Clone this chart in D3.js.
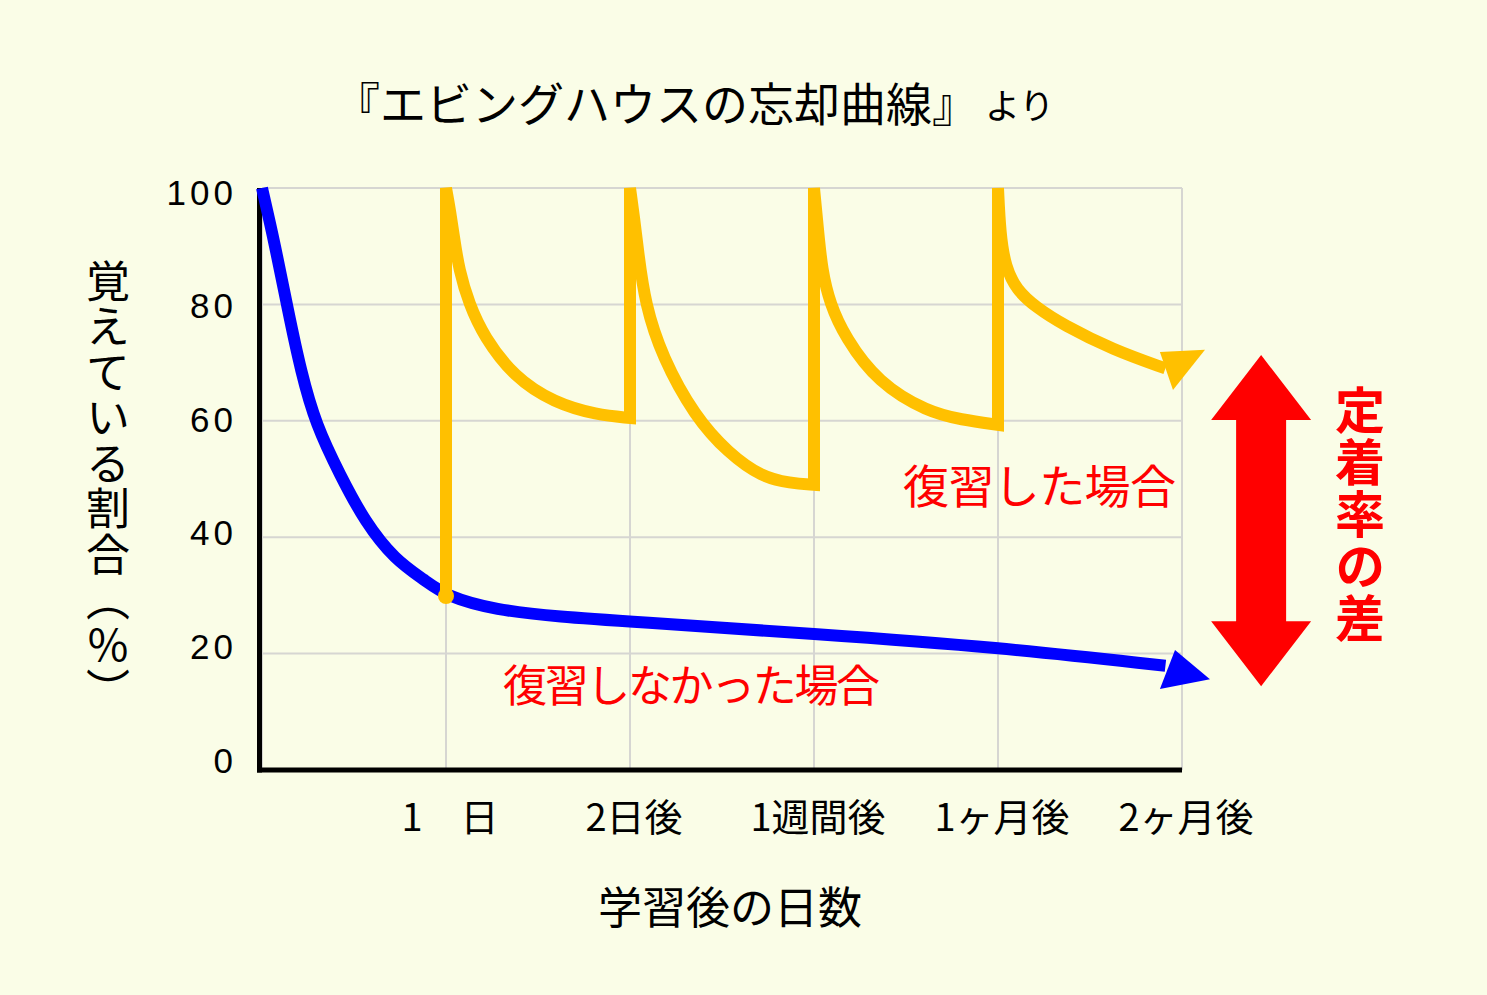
<!DOCTYPE html>
<html><head><meta charset="utf-8">
<script src="https://cdn.jsdelivr.net/npm/d3@7"></script>
<style>html,body{margin:0;padding:0;background:#fafde7;} svg{display:block}</style>
</head><body>
<svg id="chart" width="1487" height="995"></svg>
<script>
// ---------- data ----------
const titleMain = "『エビングハウスの忘却曲線』";
const titleSuffix = "より";
const yTicks = [0, 20, 40, 60, 80, 100];
const xTickValues = [1, 2, 3, 4, 5];
const xTickLabels = ["1　日", "2日後", "1週間後", "1ヶ月後", "2ヶ月後"];
const yAxisTitle = "覚えている割合（％）";
const xAxisTitle = "学習後の日数";
const noReviewLabel = "復習しなかった場合";
const reviewLabel = "復習した場合";
const gapLabel = "定着率の差";

// 復習しなかった場合 (blue)
const noReview = [[0,100],[0.071,90.2],[0.141,79.0],[0.212,68.4],[0.293,59.3],[0.424,50.7],
  [0.56,42.6],[0.723,36.1],[0.886,32.6],[1.0,29.9],[1.266,27.5],[1.62,26.3],[2.0,25.5],
  [3.0,23.4],[4.0,21.1],[4.91,17.9]];
const noReviewArrow = [[4.962,20.6],[5.152,15.6],[4.88,13.9]];

// 復習した場合 (yellow): review points and decays
const reviewDays = [1, 2, 3, 4];
const reviewStart = 29.9;          // value on the blue curve at day 1
const decay1 = [[1,100],[1.022,96.2],[1.043,91.6],[1.071,85.9],[1.125,80.1],[1.207,74.4],[1.37,67.5],[1.587,63.1],[1.82,61],[2,60.5]];
const decay2 = [[2,100],[2.022,95],[2.045,88.8],[2.082,80.1],[2.174,71],[2.353,60.7],[2.533,54.5],[2.717,50.3],[2.87,49.3],[3,49]];
const decay3 = [[3,100],[3.022,92.8],[3.043,85.9],[3.087,80.1],[3.168,74.4],[3.348,66.5],[3.62,61.5],[3.8,60.2],[4,59.3]];
const decay4 = [[4,100],[4.012,92],[4.04,86.5],[4.1,82.5],[4.207,79.5],[4.353,76.5],[4.625,72.2],[4.91,69]];
const reviewArrow = [[4.88,71.8],[5.125,72.2],[4.951,65.3]];

// 定着率の差 arrow
const gapRange = [71.3, 14.4];
const gapX = 5.43;

// ---------- drawing ----------
const svg = d3.select("#chart");
const W = 1487, H = 995;
const JP = "'Noto Sans CJK JP','Noto Sans JP',sans-serif";

svg.append("rect").attr("width", W).attr("height", H).attr("fill", "#fafde7");

const x = d3.scaleLinear().domain([0, 5]).range([262, 1182]);
const y = d3.scaleLinear().domain([0, 100]).range([770, 188]);
const yLab = d3.scaleLinear().domain([0, 100]).range([760, 192]);

// gridlines
const g = svg.append("g");
g.selectAll("line.h").data(yTicks.filter(d => d > 0)).join("line")
  .attr("x1", x(0)).attr("x2", x(5)).attr("y1", d => y(d)).attr("y2", d => y(d))
  .attr("stroke", "#d6d6d2").attr("stroke-width", 2);
g.selectAll("line.v").data([0].concat(xTickValues)).join("line")
  .attr("x1", d => x(d)).attr("x2", d => x(d))
  .attr("y1", y(100)).attr("y2", y(0))
  .attr("stroke", "#d6d6d2").attr("stroke-width", 2);

// axes
svg.append("line").attr("x1", x(0) - 2.5).attr("x2", x(0) - 2.5).attr("y1", y(100)).attr("y2", y(0) + 2.5)
  .attr("stroke", "#000").attr("stroke-width", 5);
svg.append("line").attr("x1", x(0) - 5).attr("x2", x(5)).attr("y1", y(0)).attr("y2", y(0))
  .attr("stroke", "#000").attr("stroke-width", 5);

// y tick labels
svg.selectAll("text.yt").data(yTicks).join("text")
  .attr("x", 237).attr("y", d => yLab(d))
  .attr("text-anchor", "end").attr("dominant-baseline", "central")
  .attr("font-family", "'Liberation Sans',Arial,sans-serif").attr("font-size", 35)
  .attr("letter-spacing", "4px").attr("fill", "#000")
  .text(d => d);

// x tick labels
svg.selectAll("text.xt").data(xTickValues).join("text")
  .attr("x", d => x(d) + 4).attr("y", 814)
  .attr("text-anchor", "middle").attr("dominant-baseline", "central")
  .attr("font-family", JP).attr("font-size", 38).attr("fill", "#000")
  .text((d, i) => xTickLabels[i]);

// axis titles
svg.append("text").attr("x", 730).attr("y", 905)
  .attr("text-anchor", "middle").attr("dominant-baseline", "central")
  .attr("font-family", JP).attr("font-size", 44).attr("fill", "#000")
  .text(xAxisTitle);
svg.append("text").attr("x", 108).attr("y", 259)
  .attr("text-anchor", "start")
  .style("writing-mode", "vertical-rl")
  .attr("letter-spacing", "1.5px")
  .attr("font-family", JP).attr("font-size", 44).attr("fill", "#000")
  .text(yAxisTitle);

// title
svg.append("text").attr("x", 334).attr("y", 101)
  .attr("dominant-baseline", "central").attr("font-family", JP).attr("fill", "#000")
  .attr("font-size", 46).text(titleMain);
svg.append("text").attr("x", 985).attr("y", 103)
  .attr("dominant-baseline", "central").attr("font-family", JP).attr("fill", "#000")
  .attr("font-size", 35).text(titleSuffix);

// blue curve
const lineCurve = d3.line().x(d => x(d[0])).y(d => y(d[1])).curve(d3.curveBasis);
const lineLin = d3.line().x(d => x(d[0])).y(d => y(d[1]));
svg.append("path").attr("d", lineCurve(noReview))
  .attr("fill", "none").attr("stroke", "#0000ff").attr("stroke-width", 12);
svg.append("path").attr("d", lineLin(noReviewArrow) + "Z").attr("fill", "#0000ff");

// yellow curve as one path
const decays = [decay1, decay2, decay3, decay4];
let pathD = "";
let bottom = reviewStart;
reviewDays.forEach((day, i) => {
  const v = lineLin([[day, bottom], [day, 100]]);
  pathD += (i === 0 ? v : v.replace(/^M/, "L"));
  pathD += lineCurve(decays[i]).replace(/^M/, "L");
  bottom = decays[i][decays[i].length - 1][1];
});
svg.append("path").attr("d", pathD)
  .attr("fill", "none").attr("stroke", "#ffc000").attr("stroke-width", 12)
  .attr("stroke-linejoin", "miter").attr("stroke-miterlimit", 3);
svg.append("path").attr("d", lineLin(reviewArrow) + "Z").attr("fill", "#ffc000");
svg.append("circle").attr("cx", x(reviewDays[0])).attr("cy", y(reviewStart)).attr("r", 8).attr("fill", "#ffc000");

// labels
svg.append("text").attr("x", 903).attr("y", 483)
  .attr("dominant-baseline", "central").attr("font-family", JP).attr("font-size", 46)
  .attr("textLength", 273).attr("lengthAdjust", "spacing")
  .attr("fill", "#ff0000").text(reviewLabel);
svg.append("text").attr("x", 503).attr("y", 683)
  .attr("dominant-baseline", "central").attr("font-family", JP).attr("font-size", 44)
  .attr("textLength", 377).attr("lengthAdjust", "spacing")
  .attr("fill", "#ff0000").text(noReviewLabel);

// red double arrow
const cx = x(gapX), yTop = y(gapRange[0]), yBot = y(gapRange[1]);
const headL = 65, headW = 50, shaftW = 25;
const arrowPts = [
  [cx, yTop], [cx + headW, yTop + headL], [cx + shaftW, yTop + headL],
  [cx + shaftW, yBot - headL], [cx + headW, yBot - headL], [cx, yBot],
  [cx - headW, yBot - headL], [cx - shaftW, yBot - headL],
  [cx - shaftW, yTop + headL], [cx - headW, yTop + headL]
];
svg.append("polygon").attr("points", arrowPts.map(p => p.join(",")).join(" ")).attr("fill", "#ff0000");

svg.append("text").attr("x", 1360).attr("y", 385)
  .attr("text-anchor", "start")
  .style("writing-mode", "vertical-rl")
  .attr("letter-spacing", "2px")
  .attr("font-family", JP).attr("font-size", 50).attr("font-weight", "bold")
  .attr("fill", "#ff0000").text(gapLabel);
</script>
</body></html>
